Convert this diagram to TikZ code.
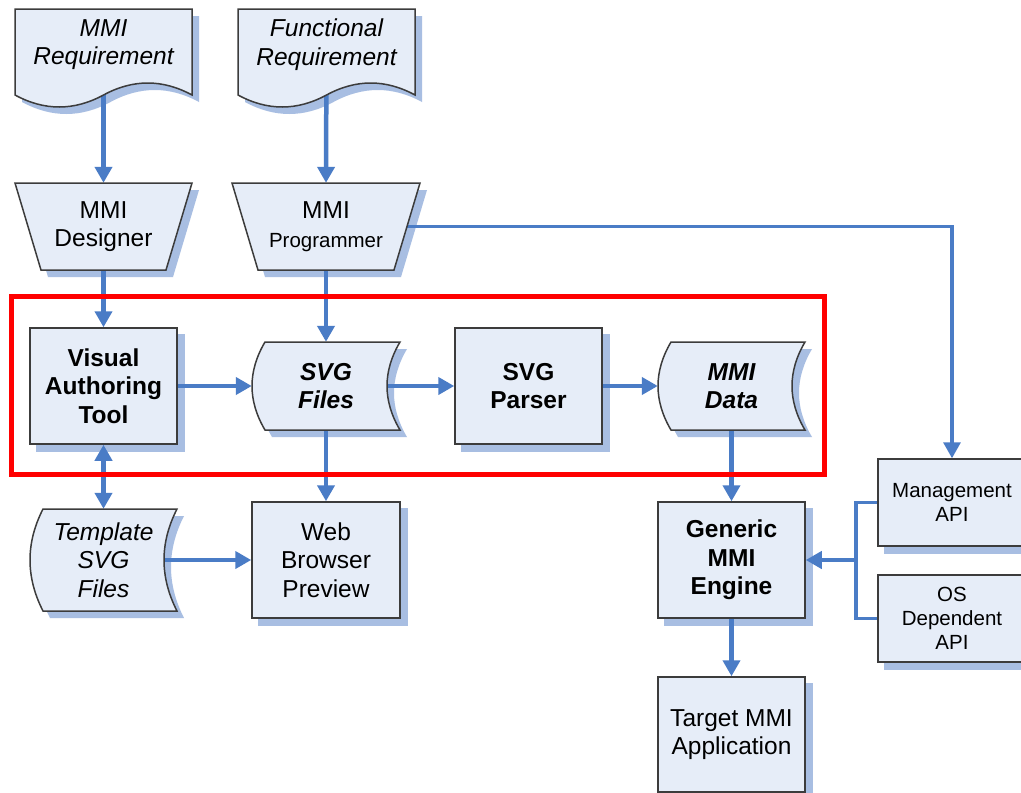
\documentclass[tikz,border=0pt]{standalone}
\usepackage{fontspec}
\setmainfont{Liberation Sans}
\usetikzlibrary{arrows.meta,calc}
\pgfdeclarelayer{shadow}
\pgfdeclarelayer{conn}
\pgfsetlayers{shadow,conn,main}
\definecolor{boxfill}{HTML}{E6EDF8}
\definecolor{shadowc}{HTML}{A8BEE2}
\definecolor{linkc}{HTML}{4A7CC6}
\definecolor{edgec}{HTML}{3C3C3C}
\definecolor{focusred}{HTML}{FF0000}
\newcommand\mainsz{\fontsize{24.5}{28.5}\selectfont}
\newcommand\smallsz{\fontsize{20.5}{24}\selectfont}
% document shape: opts, x1, ytop, x2, ybase
\newcommand\docdraw[5]{\path[#1] (#2,#3) -- (#4,#3) -- (#4,#5)
  .. controls ({#4-(#4-#2)/6},{#5-16}) and ({#4-(#4-#2)/3},{#5-16}) .. ({(#2+#4)/2},#5)
  .. controls ({#2+(#4-#2)/3},{#5+16}) and ({#2+(#4-#2)/6},{#5+16}) .. (#2,#5) -- cycle;}
\newcommand\docshape[4]{\begin{pgfonlayer}{shadow}\docdraw{fill=shadowc,shift={(7,7)}}{#1}{#2}{#3}{#4}\end{pgfonlayer}\docdraw{shapeline}{#1}{#2}{#3}{#4}}
% trapezoid: opts, x1, ytop, x2, ybot, inset
\newcommand\trapdraw[6]{\path[#1] (#2,#3) -- (#4,#3) -- ({#4-#6},#5) -- ({#2+#6},#5) -- cycle;}
\newcommand\trapshape[5]{\begin{pgfonlayer}{shadow}\trapdraw{fill=shadowc,shift={(7,7)}}{#1}{#2}{#3}{#4}{#5}\end{pgfonlayer}\trapdraw{shapeline}{#1}{#2}{#3}{#4}{#5}}
% stored data: opts, xl, ytop, xr, ybot, bulge
\newcommand\storedraw[6]{\path[#1] ({#2+#6},#3) -- (#4,#3)
  .. controls ({#4-1.333*#6},{#3+(#5-#3)/3}) and ({#4-1.333*#6},{#5-(#5-#3)/3}) .. (#4,#5)
  -- ({#2+#6},#5)
  .. controls ({#2-0.333*#6},{#5-(#5-#3)/3}) and ({#2-0.333*#6},{#3+(#5-#3)/3}) .. ({#2+#6},#3) -- cycle;}
\newcommand\storeshape[5]{\begin{pgfonlayer}{shadow}\storedraw{fill=shadowc,shift={(7,7)}}{#1}{#2}{#3}{#4}{#5}\end{pgfonlayer}\storedraw{shapeline}{#1}{#2}{#3}{#4}{#5}}
\newcommand\boxshadow[1]{\begin{pgfonlayer}{shadow}\fill[shadowc] ([shift={(7,7)}]#1.north west) rectangle ([shift={(7,7)}]#1.south east);\end{pgfonlayer}}
\tikzset{
  shapeline/.style={fill=boxfill, draw=edgec, line width=1.5pt},
  proc/.style={fill=boxfill, draw=edgec, line width=1.5pt, inner sep=0pt, align=center, font=\mainsz},
  txt/.style={inner sep=0pt, align=center, font=\mainsz},
  flow/.style={draw=linkc, line width=4.5pt, -{Triangle[length=16pt,width=17pt]}},
  thinflow/.style={draw=linkc, line width=3.2pt},
}
\begin{document}
\begin{tikzpicture}[x=1pt,y=-1pt]
\useasboundingbox (0,0) rectangle (1021,793);
\begin{pgfonlayer}{shadow}\fill[white] (0,0) rectangle (1021,793);\end{pgfonlayer}

% custom shapes
\docshape{15}{9}{192}{95}
\docshape{238}{9}{415}{95}
\trapshape{15}{183}{192}{270}{26}
\trapshape{232}{183}{420}{270}{26}
\storeshape{252}{342}{400}{430}{13}
\storeshape{658}{342}{805}{430}{13}
\storeshape{30}{509}{177}{611}{13}

% nodes
\node[txt, font={\mainsz\itshape}, minimum width=177pt, minimum height=71pt] (mmireq) at (103.5,44.5) {MMI\\Requirement};
\node[txt, font={\mainsz\itshape}, minimum width=177pt, minimum height=71pt] (funreq) at (326.5,44.5) {Functional\\Requirement};
\node[txt, minimum width=177pt, minimum height=87pt] (designer) at (103.5,226.5) {MMI\\Designer};
\node[txt, minimum width=188pt, minimum height=87pt] (prog) at (326,226.5) {MMI\\{\smallsz Programmer}};
\node[proc, font={\mainsz\bfseries}, minimum width=147pt, minimum height=116pt] (vat) at (103.5,386) {Visual\\Authoring\\Tool};
\node[txt, font={\mainsz\bfseries\itshape}, minimum width=148pt, minimum height=88pt] (svgf) at (326,386) {SVG\\Files};
\node[proc, font={\mainsz\bfseries}, minimum width=147pt, minimum height=116pt] (parser) at (528.5,386) {SVG\\Parser};
\node[txt, font={\mainsz\bfseries\itshape}, minimum width=147pt, minimum height=88pt] (mmidata) at (731.5,386) {MMI\\Data};
\node[txt, font={\mainsz\itshape}, minimum width=147pt, minimum height=102pt] (tmpl) at (103.5,560) {Template\\SVG\\Files};
\node[proc, minimum width=148pt, minimum height=116pt] (wbp) at (326,560) {Web\\Browser\\Preview};
\node[proc, font={\mainsz\bfseries}, minimum width=147pt, minimum height=116pt] (engine) at (731.5,560) {Generic\\MMI\\Engine};
\node[proc, minimum width=147pt, minimum height=115pt] (target) at (731.5,734.5) {Target MMI\\Application};
\node[proc, font=\smallsz, minimum width=148pt, minimum height=87pt] (mgmt) at (952,502.5) {Management\\API};
\node[proc, font=\smallsz, minimum width=148pt, minimum height=87pt] (osdep) at (952,618.5) {OS\\Dependent\\API};
\foreach \n in {vat,parser,wbp,engine,target,mgmt,osdep} {\boxshadow{\n}}

% connectors
\begin{pgfonlayer}{conn}
\draw[flow] (mmireq.center) -- (designer.north);
\draw[flow] (funreq.center) -- (prog.north);
\draw[flow] (designer.center) -- (vat.north);
\draw[flow] (prog.center) -- (svgf.north);
\draw[flow] (vat.east) -- (svgf.west);
\draw[flow] (svgf.center) -- (parser.west);
\draw[flow] (parser.east) -- (mmidata.west);
\draw[flow, {Triangle[length=16pt,width=17pt]}-{Triangle[length=16pt,width=17pt]}] (vat.south) -- (tmpl.north);
\draw[flow] (svgf.center) -- (wbp.north);
\draw[flow] (tmpl.center) -- (wbp.west);
\draw[flow] (mmidata.center) -- (engine.north);
\draw[flow] (engine.south) -- (target.north);
\draw[thinflow, -{Triangle[length=16pt,width=17pt]}] (prog.center) -| (mgmt.north);
\coordinate (junc) at (856,560);
\draw[thinflow] (mgmt.west) -| (junc);
\draw[thinflow] (osdep.west) -| (junc);
\draw[flow] (junc) -- (engine.east);
\end{pgfonlayer}

% focus frame
\draw[focusred, line width=5pt] (11,296) rectangle (824,474);
\end{tikzpicture}
\end{document}
